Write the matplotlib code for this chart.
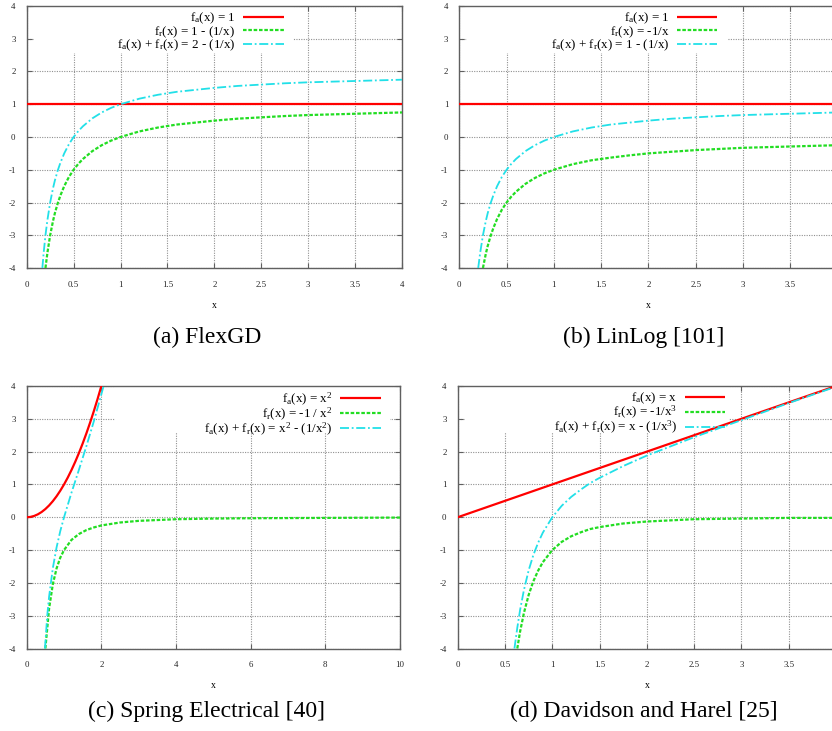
import matplotlib
matplotlib.use("Agg")
import matplotlib.pyplot as plt
from matplotlib.patches import Rectangle

plt.rcParams['font.family'] = ['Liberation Serif', 'DejaVu Serif']
plt.rcParams['mathtext.fontset'] = 'custom'
plt.rcParams['mathtext.rm'] = 'Liberation Serif'
plt.rcParams['mathtext.it'] = 'Liberation Serif:italic'
plt.rcParams['axes.unicode_minus'] = False

# ---------------- data ----------------
# (a) FlexGD
a_red_x = [0.0, 4.0]
a_red_y = [1.0, 1.0]
a_green_x = [0.2, 0.22, 0.25, 0.28, 0.3, 0.33, 0.36, 0.4, 0.45, 0.5, 0.55, 0.6, 0.7, 0.8, 0.9,
             1.0, 1.2, 1.4, 1.6, 1.8, 2.0, 2.25, 2.5, 2.75, 3.0, 3.25, 3.5, 3.75, 4.0]
a_green_y = [-4.0, -3.55, -3.0, -2.57, -2.33, -2.03, -1.78, -1.5, -1.22, -1.0, -0.82, -0.67, -0.43, -0.25, -0.11,
             0.0, 0.17, 0.29, 0.38, 0.44, 0.5, 0.56, 0.6, 0.64, 0.67, 0.69, 0.71, 0.73, 0.75]
a_cyan_x = [0.167, 0.18, 0.2, 0.22, 0.25, 0.28, 0.3, 0.33, 0.36, 0.4, 0.45, 0.5, 0.55, 0.6, 0.7, 0.8, 0.9,
            1.0, 1.2, 1.4, 1.6, 1.8, 2.0, 2.25, 2.5, 2.75, 3.0, 3.25, 3.5, 3.75, 4.0]
a_cyan_y = [-4.0, -3.56, -3.0, -2.55, -2.0, -1.57, -1.33, -1.03, -0.78, -0.5, -0.22, 0.0, 0.18, 0.33, 0.57, 0.75, 0.89,
            1.0, 1.17, 1.29, 1.38, 1.44, 1.5, 1.56, 1.6, 1.64, 1.67, 1.69, 1.71, 1.73, 1.75]

# (b) LinLog
b_red_x = [0.0, 4.0]
b_red_y = [1.0, 1.0]
b_green_x = [0.25, 0.28, 0.3, 0.33, 0.36, 0.4, 0.45, 0.5, 0.55, 0.6, 0.7, 0.8, 0.9,
             1.0, 1.2, 1.4, 1.6, 1.8, 2.0, 2.5, 3.0, 3.5, 4.0]
b_green_y = [-4.0, -3.57, -3.33, -3.03, -2.78, -2.5, -2.22, -2.0, -1.82, -1.67, -1.43, -1.25, -1.11,
             -1.0, -0.83, -0.71, -0.63, -0.56, -0.5, -0.4, -0.33, -0.29, -0.25]
b_cyan_x = [0.2, 0.22, 0.25, 0.28, 0.3, 0.33, 0.36, 0.4, 0.45, 0.5, 0.55, 0.6, 0.7, 0.8, 0.9,
            1.0, 1.2, 1.4, 1.6, 1.8, 2.0, 2.25, 2.5, 2.75, 3.0, 3.25, 3.5, 3.75, 4.0]
b_cyan_y = [-4.0, -3.55, -3.0, -2.57, -2.33, -2.03, -1.78, -1.5, -1.22, -1.0, -0.82, -0.67, -0.43, -0.25, -0.11,
            0.0, 0.17, 0.29, 0.38, 0.44, 0.5, 0.56, 0.6, 0.64, 0.67, 0.69, 0.71, 0.73, 0.75]

# (c) Spring Electrical
c_red_x = [0.0, 0.1, 0.2, 0.3, 0.4, 0.5, 0.6, 0.7, 0.8, 0.9, 1.0, 1.1, 1.2, 1.3, 1.4, 1.5,
           1.6, 1.7, 1.8, 1.9, 2.0]
c_red_y = [0.0, 0.01, 0.04, 0.09, 0.16, 0.25, 0.36, 0.49, 0.64, 0.81, 1.0, 1.21, 1.44, 1.69, 1.96, 2.25,
           2.56, 2.89, 3.24, 3.61, 4.0]
c_green_x = [0.5, 0.6, 0.7, 0.8, 0.9, 1.0, 1.2, 1.4, 1.6, 1.8, 2.0, 2.5, 3.0, 4.0, 5.0, 6.0, 8.0, 10.0]
c_green_y = [-4.0, -2.78, -2.04, -1.56, -1.23, -1.0, -0.69, -0.51, -0.39, -0.31, -0.25, -0.16, -0.11,
             -0.06, -0.04, -0.03, -0.02, -0.01]
c_cyan_x = [0.49, 0.55, 0.6, 0.7, 0.8, 0.9, 1.0, 1.2, 1.4, 1.6, 1.8, 2.0, 2.06]
c_cyan_y = [-4.0, -3.0, -2.42, -1.55, -0.92, -0.42, 0.0, 0.75, 1.45, 2.17, 2.93, 3.75, 4.0]

# (d) Davidson and Harel
d_red_x = [0.0, 4.0]
d_red_y = [0.0, 4.0]
d_green_x = [0.63, 0.66, 0.7, 0.75, 0.8, 0.85, 0.9, 1.0, 1.1, 1.2, 1.3, 1.4, 1.5, 1.75, 2.0, 2.5, 3.0, 3.5, 4.0]
d_green_y = [-4.0, -3.48, -2.92, -2.37, -1.95, -1.63, -1.37, -1.0, -0.75, -0.58, -0.46, -0.36, -0.30,
             -0.19, -0.13, -0.06, -0.04, -0.02, -0.02]
d_cyan_x = [0.6, 0.63, 0.66, 0.7, 0.75, 0.8, 0.85, 0.9, 1.0, 1.1, 1.2, 1.3, 1.4, 1.5, 1.75, 2.0, 2.5, 3.0, 3.5, 4.0]
d_cyan_y = [-4.0, -3.37, -2.82, -2.22, -1.62, -1.15, -0.78, -0.47, 0.0, 0.35, 0.62, 0.84, 1.04, 1.20,
            1.56, 1.88, 2.44, 2.96, 3.48, 3.98]

a_labels = [r"f$_\mathrm{a}$(x) = 1", r"f$_\mathrm{r}$(x) = 1 - (1/x)",
            r"f$_\mathrm{a}$(x) + f$_\mathrm{r}$(x) = 2 - (1/x)"]
b_labels = [r"f$_\mathrm{a}$(x) = 1", r"f$_\mathrm{r}$(x) = -1/x",
            r"f$_\mathrm{a}$(x) + f$_\mathrm{r}$(x) = 1 - (1/x)"]
c_labels = [r"f$_\mathrm{a}$(x) = x$^\mathrm{2}$", r"f$_\mathrm{r}$(x) = -1 / x$^\mathrm{2}$",
            r"f$_\mathrm{a}$(x) + f$_\mathrm{r}$(x) = x$^\mathrm{2}$ - (1/x$^\mathrm{2}$)"]
d_labels = [r"f$_\mathrm{a}$(x) = x", r"f$_\mathrm{r}$(x) = -1/x$^\mathrm{3}$",
            r"f$_\mathrm{a}$(x) + f$_\mathrm{r}$(x) = x - (1/x$^\mathrm{3}$)"]

captions = ["(a) FlexGD", "(b) LinLog [101]", "(c) Spring Electrical [40]", "(d) Davidson and Harel [25]"]

ticks_small = [0, 0.5, 1, 1.5, 2, 2.5, 3, 3.5, 4]
ticklabels_a = ["0", "0.5", "1", "1.5", "2", "2.5", "3", "3.5", "4"]
ticklabels_bd = ["0", "0.5", "1", "1.5", "2", "2.5", "3", "3.5", ""]   # label 4 lies past the image edge
ticks_c = [0, 2, 4, 6, 8, 10]
ticklabels_c = ["0", "2", "4", "6", "8", "10"]
yticks = [-4, -3, -2, -1, 0, 1, 2, 3, 4]

# ---------------- figure ----------------
W, H = 832, 731
fig = plt.figure(figsize=(W / 100, H / 100), dpi=100)

def px_axes(l, r, t, b):
    return [l / W, 1 - b / H, (r - l) / W, (b - t) / H]

panels = [
    dict(rect=px_axes(26.7, 402.0, 6.0, 268.0), xlim=(0, 4), xt=ticks_small, xtl=ticklabels_a,
         red=(a_red_x, a_red_y), green=(a_green_x, a_green_y), cyan=(a_cyan_x, a_cyan_y),
         labels=a_labels, leg_x=0.693, box=(0.02, 0.71, 0.82)),
    dict(rect=px_axes(459.3, 837.6, 6.0, 268.0), xlim=(0, 4), xt=ticks_small, xtl=ticklabels_bd,
         red=(b_red_x, b_red_y), green=(b_green_x, b_green_y), cyan=(b_cyan_x, b_cyan_y),
         labels=b_labels, leg_x=0.691, box=(0.02, 0.71, 0.82)),
    dict(rect=px_axes(26.7, 400.0, 386.0, 648.5), xlim=(0, 10), xt=ticks_c, xtl=ticklabels_c,
         red=(c_red_x, c_red_y), green=(c_green_x, c_green_y), cyan=(c_cyan_x, c_cyan_y),
         labels=c_labels, leg_x=0.957, box=(0.237, 0.973, 0.826)),
    dict(rect=px_axes(457.7, 836.0, 386.0, 648.5), xlim=(0, 4), xt=ticks_small, xtl=ticklabels_bd,
         red=(d_red_x, d_red_y), green=(d_green_x, d_green_y), cyan=(d_cyan_x, d_cyan_y),
         labels=d_labels, leg_x=0.716, box=(0.02, 0.718, 0.826)),
]

RED = '#ff0000'
GREEN = '#22dd22'
CYAN = '#22e0e8'
SPINE = '#606060'

for p in panels:
    ax = fig.add_axes(p['rect'])
    ax.set_xlim(*p['xlim'])
    ax.set_ylim(-4, 4)
    ax.set_axisbelow(True)
    ax.set_xticks(p['xt'])
    ax.set_xticklabels(p['xtl'])
    ax.set_yticks(yticks)
    ax.tick_params(direction='in', length=3.5, width=0.8, color=SPINE, labelsize=6.3,
                   labelcolor='#222222', top=True, right=True, pad=9)
    ax.tick_params(axis='y', pad=8)
    for s in ax.spines.values():
        s.set_color(SPINE)
        s.set_linewidth(1.0)
    ax.grid(True, color='#909090', linestyle=(0, (1, 1.2)), linewidth=0.8)
    x0, x1, y0 = p['box']
    ax.add_patch(Rectangle((x0, y0), x1 - x0, 1 - y0, transform=ax.transAxes,
                           facecolor='white', edgecolor='none', zorder=1))
    l1, = ax.plot(*p['red'], color=RED, lw=1.6, zorder=3, solid_capstyle='butt')
    l2, = ax.plot(*p['green'], color=GREEN, lw=1.6, linestyle=(0, (1.6, 0.8)), zorder=3)
    l3, = ax.plot(*p['cyan'], color=CYAN, lw=1.3, linestyle=(0, (5, 1.5, 1, 1.5)), zorder=3)
    ax.legend([l1, l2, l3], p['labels'], loc='upper right', bbox_to_anchor=(p['leg_x'], 0.995),
              frameon=False, markerfirst=False, fontsize=9.4, handlelength=3.1, handletextpad=0.6,
              labelspacing=-0.14, borderpad=0.25, borderaxespad=0.0)
    ax.set_xlabel('x', fontsize=7, labelpad=9)

fig.text(207 / W, 1 - 337 / H, captions[0], ha='center', va='center', fontsize=17)
fig.text(644 / W, 1 - 337 / H, captions[1], ha='center', va='center', fontsize=17)
fig.text(207 / W, 1 - 711 / H, captions[2], ha='center', va='center', fontsize=17)
fig.text(644 / W, 1 - 711 / H, captions[3], ha='center', va='center', fontsize=17)

fig.savefig('out.png', dpi=100)
